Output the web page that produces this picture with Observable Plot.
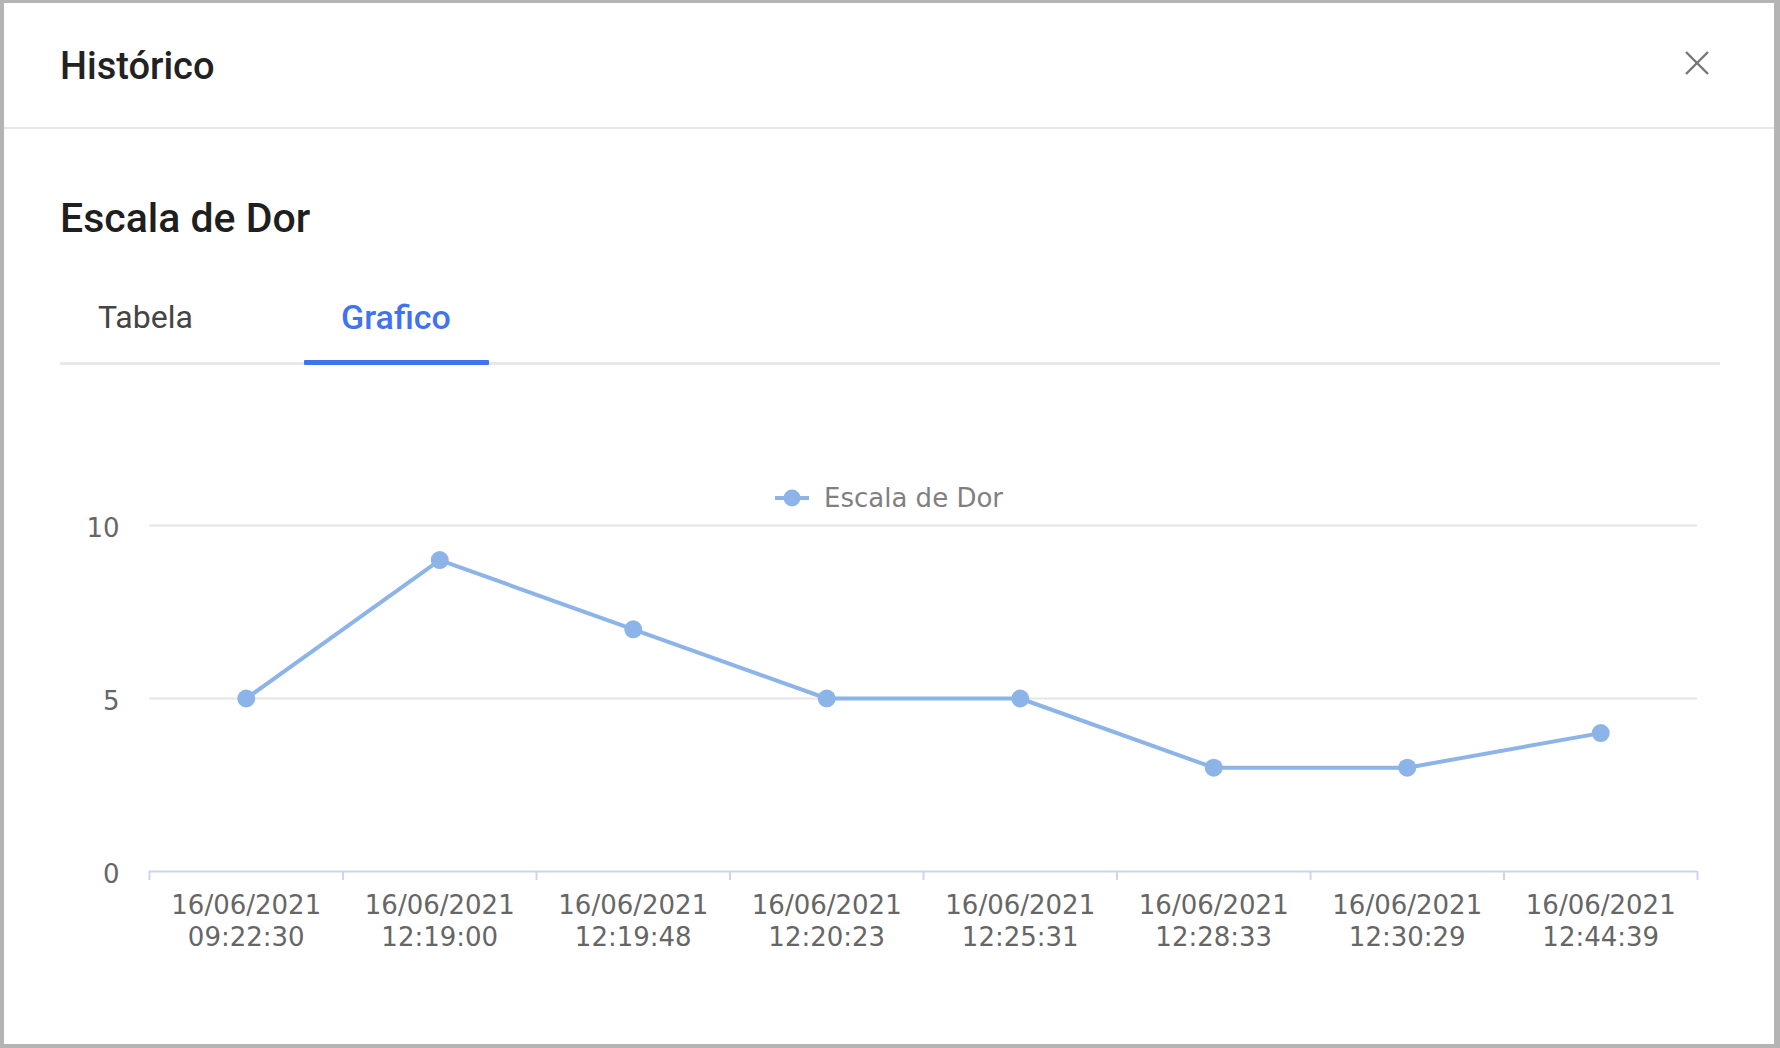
<!DOCTYPE html>
<html>
<head>
<meta charset="utf-8">
<script src="https://cdn.jsdelivr.net/npm/d3@7"></script>
<script src="https://cdn.jsdelivr.net/npm/@observablehq/plot@0.6"></script>
<style>
  html, body { margin: 0; padding: 0; }
  body { width: 1780px; height: 1048px; background: #b4b4b4; position: relative; overflow: hidden; font-family: Roboto, "Noto Sans", sans-serif; }
  #modal { position: absolute; left: 4px; top: 3px; width: 1770px; height: 1041px; background: #fff; }
  .abs { position: absolute; white-space: nowrap; }
  #title { left: 56px; top: 44px; font-size: 38px; line-height: 38px; color: #222; font-weight: 500; }
  #sep { left: 0; top: 124px; width: 1770px; height: 2px; background: #e8e8e8; }
  #close { left: 1678px; top: 45px; }
  #heading { left: 56px; top: 195px; font-size: 41px; line-height: 41px; color: #1f1f1f; font-weight: 500; }
  #tab1 { left: 94px; top: 298px; font-size: 32px; line-height: 32px; color: #444; }
  #tab2 { left: 337px; top: 297px; font-size: 34px; line-height: 34px; color: #3f73f0; font-weight: 500; }
  #tabline { left: 56px; top: 359px; width: 1660px; height: 3px; background: #e8e8e8; }
  #tabactive { left: 300px; top: 357px; width: 185px; height: 5px; background: #3f73f0; border-radius: 1px; }
  #legend { left: 770px; top: 480px; display: flex; align-items: center; font-family: "DejaVu Sans", sans-serif; font-size: 26px; color: #808080; }
  #legend svg { margin-right: 14px; }
  #chart { position: absolute; left: 0; top: 437px; }
</style>
</head>
<body>
<div id="modal">
  <div class="abs" id="title">Histórico</div>
  <svg class="abs" id="close" width="30" height="30" viewBox="0 0 30 30">
    <line x1="4" y1="4" x2="26" y2="26" stroke="#777" stroke-width="2.4"/>
    <line x1="26" y1="4" x2="4" y2="26" stroke="#777" stroke-width="2.4"/>
  </svg>
  <div class="abs" id="sep"></div>
  <div class="abs" id="heading">Escala de Dor</div>
  <div class="abs" id="tab1">Tabela</div>
  <div class="abs" id="tab2">Grafico</div>
  <div class="abs" id="tabline"></div>
  <div class="abs" id="tabactive"></div>
  <div class="abs" id="legend">
    <svg width="36" height="20" viewBox="0 0 36 20">
      <line x1="1" y1="10" x2="35" y2="10" stroke="#8cb4e8" stroke-width="4"/>
      <circle cx="18" cy="10" r="8.5" fill="#8cb4e8"/>
    </svg>
    <span>Escala de Dor</span>
  </div>
  <div id="chart"></div>
</div>
<script>
const seriesName = "Escala de Dor";
const dates = ["16/06/2021","16/06/2021","16/06/2021","16/06/2021","16/06/2021","16/06/2021","16/06/2021","16/06/2021"];
const times = ["09:22:30","12:19:00","12:19:48","12:20:23","12:25:31","12:28:33","12:30:29","12:44:39"];
const values = [5, 9, 7, 5, 5, 3, 3, 4];
const yTicks = [0, 5, 10];

const data = values.map((v, i) => ({i, label: dates[i] + "\n" + times[i], value: v}));
const lineColor = "#8cb4e8";
const axisColor = "#ccd6eb";

const plot = Plot.plot({
  width: 1770,
  height: 560,
  marginLeft: 145,
  marginRight: 77,
  marginTop: 85,
  marginBottom: 129,
  style: {background: "transparent", fontFamily: "'DejaVu Sans', sans-serif", overflow: "visible"},
  x: {domain: [0, values.length], axis: null},
  y: {domain: [0, 10], axis: null},
  marks: [
    Plot.gridY([5, 10], {stroke: "#e6e6e6", strokeOpacity: 1, strokeWidth: 2}),
    Plot.axisY(yTicks, {tickSize: 0, tickPadding: 30, fontSize: 26, fill: "#666", dy: 3, label: null}),
    Plot.ruleY([0], {stroke: axisColor, strokeWidth: 2}),
    Plot.axisX(d3.range(values.length + 1), {tickSize: 9, stroke: axisColor, strokeWidth: 2, tickFormat: () => "", label: null}),
    Plot.text(data, {x: d => d.i + 0.5, y: () => 0, text: "label", lineAnchor: "top", dy: 20, fontSize: 26, fill: "#666", lineHeight: 1.22}),
    Plot.line(data, {x: d => d.i + 0.5, y: "value", stroke: lineColor, strokeWidth: 4}),
    Plot.dot(data, {x: d => d.i + 0.5, y: "value", r: 9, fill: lineColor, stroke: null})
  ]
});
document.getElementById("chart").appendChild(plot);
</script>
</body>
</html>
